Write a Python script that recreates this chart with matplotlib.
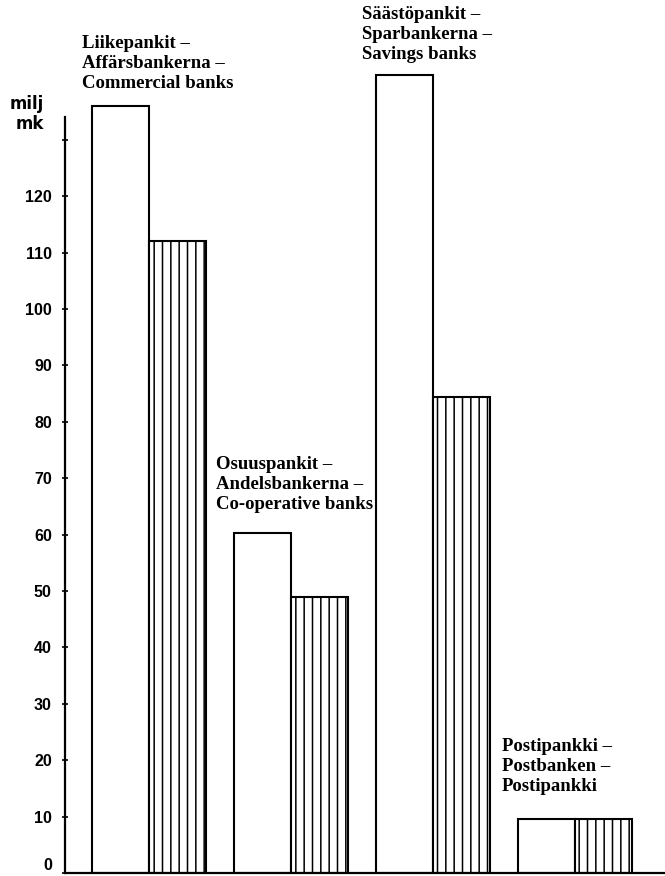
import matplotlib
matplotlib.use("Agg")
import matplotlib.pyplot as plt

# Data
categories = ["Liikepankit –\nAffärsbankerna –\nCommercial banks",
              "Osuuspankit –\nAndelsbankerna –\nCo-operative banks",
              "Säästöpankit –\nSparbankerna –\nSavings banks",
              "Postipankki –\nPostbanken –\nPostipankki"]
series_a = [136, 60.3, 141.5, 9.5]   # white bars
series_b = [112, 49, 84.4, 9.5]      # hatched bars
yticks = [0, 10, 20, 30, 40, 50, 60, 70, 80, 90, 100, 110, 120, 130]
yticklabels = ["0", "10", "20", "30", "40", "50", "60", "70", "80", "90", "100", "110", "120", ""]
label_pos = [(-0.475, 148.6), (0.47, 73.9), (1.5, 153.7), (2.485, 23.9)]

W, H, DPI = 665, 876, 100
plt.rcParams['hatch.linewidth'] = 1.1
fig = plt.figure(figsize=(W / DPI, H / DPI), dpi=DPI)
ax = fig.add_axes([65 / W, 3 / H, 600 / W, 873 / H])

x = list(range(len(categories)))
bw = 0.40
ax.bar([i - bw / 2 for i in x], series_a, width=bw, facecolor="white",
       edgecolor="black", linewidth=1.5, zorder=2)
ax.bar([i + bw / 2 for i in x], series_b, width=bw, facecolor="white",
       edgecolor="black", linewidth=1.5, hatch="||", zorder=2)

ax.set_xlim(-0.592, 3.633)
ax.set_ylim(0, 873 / 5.64)

for s in ["top", "right"]:
    ax.spines[s].set_visible(False)
ax.spines["left"].set_bounds(0, 134)
ax.spines["left"].set_linewidth(1.6)
ax.spines["bottom"].set_linewidth(1.6)
ax.set_xticks([])
ax.set_yticks(yticks)
ax.set_yticklabels(yticklabels, fontfamily="Liberation Sans", fontweight="bold", fontsize=11.5)
ax.tick_params(axis="y", direction="inout", length=5, width=1.2, pad=7)
for t in ax.get_yticklabels():
    if t.get_text() == "0":
        t.set_va("bottom")

ax.text(-0.74, 138.0, "milj\nmk", ha="right", va="top", fontfamily="DejaVu Sans",
        fontweight="bold", fontsize=12, linespacing=1.15)

for lbl, (lx, ly) in zip(categories, label_pos):
    ax.text(lx, ly, lbl, ha="left", va="top", fontfamily="Liberation Serif",
            fontweight="bold", fontsize=13.5, linespacing=1.23)

fig.savefig("out.png", dpi=DPI)
